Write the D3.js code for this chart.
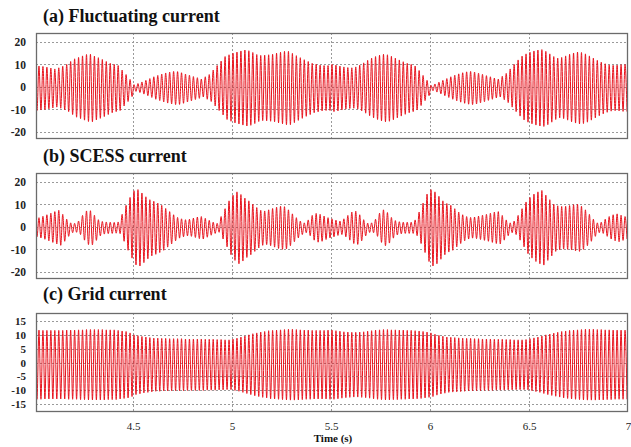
<!DOCTYPE html>
<html>
<head>
<meta charset="utf-8">
<script src="https://cdn.jsdelivr.net/npm/d3@7"></script>
<style>
  html, body { margin: 0; padding: 0; background: #fff; }
  svg { display: block; }
  svg text { font-family: "Times New Roman", "Liberation Serif", "DejaVu Serif", serif; }
</style>
</head>
<body>
<svg id="chart" width="631" height="447"></svg>
<script>
// ---------------- DATA ----------------
const panelTitles = ["(a) Fluctuating current", "(b) SCESS current", "(c) Grid current"];
const xTicks = [4.5, 5, 5.5, 6, 6.5, 7];
const xTickLabels = ["4.5", "5", "5.5", "6", "6.5", "7"];
const yTicksAB = [20, 10, 0, -10, -20];
const yTicksC = [15, 10, 5, 0, -5, -10, -15];
const xLabel = "Time (s)";

// each waveform: one value per 50 Hz cycle = peak amplitude (A) read from the envelope
const cycleStart = 4.0;     // s
const cyclePeriod = 0.02;   // s

const fluctuatingAmp = [
  10.0,9.8,9.6,9.3,8.9,8.5,9.0,9.7,10.5,11.8,
  13.0,13.6,14.3,14.9,15.0,14.2,13.5,12.7,11.8,11.0,
  10.5,10.0,8.0,6.0,3.8,1.5,2.0,2.7,3.4,4.2,
  5.0,5.6,6.2,6.7,7.1,7.4,7.3,6.8,6.2,5.7,
  5.1,4.6,4.0,5.0,6.0,8.0,10.0,12.0,14.0,14.8,
  15.5,16.0,16.5,16.9,16.6,15.8,14.9,14.5,14.6,14.8,
  15.0,15.5,15.9,16.3,16.3,15.4,14.4,13.5,12.6,11.8,
  11.0,10.6,10.2,10.0,10.0,
  10.5,10.2,9.8,9.4,9.1,9.0,9.4,10.2,11.2,12.3,
  13.3,14.0,14.6,15.0,14.8,14.1,13.3,12.5,11.7,11.0,
  10.5,9.8,7.8,5.6,3.4,1.2,1.8,2.6,3.4,4.2,
  5.0,5.7,6.3,6.8,7.2,7.4,7.1,6.6,6.1,5.5,
  5.0,4.4,4.0,5.2,6.5,8.5,10.5,12.5,14.2,15.2,
  15.9,16.5,16.9,17.1,16.3,15.2,14.0,13.3,13.6,14.3,
  15.0,15.6,16.0,15.8,15.2,14.3,13.3,12.3,11.5,10.8,
  10.3,10.1,10.2,10.4,10.5
];
const scessAmp = [
  4.0,4.5,5.1,5.8,6.5,7.2,7.8,6.0,3.8,2.2,
  2.0,3.0,5.5,7.5,7.6,5.6,3.6,2.8,2.6,2.5,
  2.4,2.6,6.0,10.0,13.5,16.5,17.0,15.5,13.8,12.5,
  11.8,11.0,10.0,8.6,7.2,5.8,4.6,4.0,3.6,3.8,
  4.3,4.8,5.0,4.2,3.3,2.5,2.0,5.0,8.5,12.0,
  14.5,16.0,14.8,13.2,12.0,10.5,9.0,7.8,7.5,8.0,
  8.6,9.2,9.6,9.4,8.0,6.2,4.5,3.0,2.2,3.5,
  5.5,6.4,6.0,5.2,4.5,
  4.0,3.4,3.0,4.0,5.5,7.0,7.4,5.8,3.6,2.1,
  2.2,3.8,6.5,8.0,6.8,4.6,3.2,2.7,2.5,2.5,
  2.5,3.5,7.0,11.0,15.0,17.0,16.0,14.0,12.0,10.8,
  10.0,8.5,7.0,5.8,5.0,4.6,4.8,5.2,5.6,6.0,
  6.5,7.0,7.2,5.5,3.5,2.2,3.0,5.5,8.5,11.5,
  13.5,15.0,16.0,16.6,14.5,12.5,10.5,9.8,9.5,9.6,
  9.9,10.3,10.5,9.6,8.0,6.0,3.8,2.2,2.5,3.8,
  5.0,5.8,6.2,5.6,5.0
];
const gridAmp = [
  12.5,12.5,12.4,12.4,12.4,12.4,12.4,12.4,12.5,12.5,
  12.5,12.6,12.6,12.7,12.7,12.7,12.7,12.7,12.6,12.6,
  12.6,12.4,12.2,12.0,11.5,10.8,10.5,10.2,10.0,9.8,
  9.6,9.6,9.5,9.5,9.4,9.4,9.4,9.4,9.3,9.3,
  9.3,9.3,9.3,9.2,9.2,9.2,9.1,9.1,9.0,9.0,
  9.3,9.6,10.0,10.4,10.8,11.2,11.5,11.8,12.0,12.3,
  12.4,12.5,12.6,12.7,12.8,12.8,12.7,12.6,12.5,12.5,
  12.4,12.4,12.4,12.4,12.5,
  12.5,12.3,12.1,11.9,11.8,11.7,11.7,11.8,11.9,12.1,
  12.3,12.5,12.6,12.7,12.7,12.6,12.6,12.5,12.5,12.4,
  12.4,12.3,12.2,12.0,11.8,11.5,11.0,10.6,10.3,10.0,
  9.9,9.8,9.7,9.6,9.5,9.5,9.4,9.4,9.3,9.3,
  9.3,9.2,9.2,9.2,9.1,9.1,9.0,9.0,9.0,9.1,
  9.4,9.7,10.0,10.4,10.8,11.1,11.4,11.7,12.0,12.2,
  12.4,12.5,12.6,12.7,12.8,12.8,12.8,12.7,12.7,12.6,
  12.6,12.5,12.5,12.5,12.5
];
// small DC offsets of each waveform (negative peaks slightly larger)
const fluctuatingOffset = -0.5;
const scessOffset = -0.4;
const gridOffset = -0.8;

// ---------------- LAYOUT ----------------
const svg = d3.select("#chart");
const plotLeft = 36, plotRight = 628;
const panels = [
  { title: panelTitles[0], amp: fluctuatingAmp, off: fluctuatingOffset, top: 33, bottom: 139, domain: [-23.2, 24], ticks: yTicksAB, titleY: 21.5 },
  { title: panelTitles[1], amp: scessAmp,       off: scessOffset,       top: 173, bottom: 279, domain: [-23.2, 24], ticks: yTicksAB, titleY: 162 },
  { title: panelTitles[2], amp: gridAmp,        off: gridOffset,        top: 313, bottom: 412, domain: [-17.9, 17.9], ticks: yTicksC, titleY: 299.5 }
];

const x = d3.scaleLinear().domain([4.01, 7.0]).range([plotLeft, plotRight]);
const serif = '"Times New Roman", "Liberation Serif", "DejaVu Serif", serif';

panels.forEach((p, k) => {
  const y = d3.scaleLinear().domain(p.domain).range([p.bottom, p.top]);
  const g = svg.append("g");

  g.append("text")
    .attr("x", 43).attr("y", p.titleY)
    .style("font-family", serif).style("font-weight", "bold")
    .style("font-size", "18px").attr("fill", "#111")
    .text(p.title);

  const clipId = "clip" + k;
  svg.append("clipPath").attr("id", clipId)
    .append("rect").attr("x", plotLeft).attr("y", p.top)
    .attr("width", plotRight - plotLeft).attr("height", p.bottom - p.top);

  g.append("g").selectAll("line").data(p.ticks).join("line")
    .attr("x1", plotLeft).attr("x2", plotRight)
    .attr("y1", d => Math.round(y(d)) + 0.5).attr("y2", d => Math.round(y(d)) + 0.5)
    .attr("stroke", "#9a9a9a").attr("stroke-width", 1).attr("stroke-dasharray", "2,2");
  g.append("g").selectAll("line").data(xTicks.filter(t => t < 7)).join("line")
    .attr("x1", d => Math.round(x(d)) + 0.5).attr("x2", d => Math.round(x(d)) + 0.5)
    .attr("y1", p.top).attr("y2", p.bottom)
    .attr("stroke", "#9a9a9a").attr("stroke-width", 1).attr("stroke-dasharray", "2,2");

  const pts = [];
  p.amp.forEach((a, i) => {
    const t0 = cycleStart + i * cyclePeriod;
    pts.push([t0 + cyclePeriod * 0.25, p.off + a]);
    pts.push([t0 + cyclePeriod * 0.75, p.off - a]);
  });
  const line = d3.line().x(d => x(d[0])).y(d => y(d[1])).curve(d3.curveMonotoneX);
  g.append("path")
    .attr("clip-path", `url(#${clipId})`)
    .attr("d", line(pts))
    .attr("fill", "none")
    .attr("stroke", "#e8141e")
    .attr("stroke-width", 1.0);

  g.append("rect")
    .attr("x", plotLeft + 0.5).attr("y", p.top + 0.5)
    .attr("width", plotRight - plotLeft - 1).attr("height", p.bottom - p.top - 1)
    .attr("fill", "none").attr("stroke", "#6b6b6b").attr("stroke-width", 1.3);

  const yAxis = d3.axisLeft(y).tickValues(p.ticks).tickSize(0).tickPadding(0)
    .tickFormat(d => String(d));
  const ya = g.append("g").attr("transform", `translate(${plotLeft - 10},0)`).call(yAxis);
  ya.select(".domain").remove();
  ya.attr("font-family", null);
  ya.selectAll("text")
    .style("font-family", serif).style("font-weight", "bold")
    .style("font-size", p.ticks.length > 5 ? "11px" : "11.5px").attr("fill", "#222");

  if (k === 2) {
    const xAxis = d3.axisBottom(x).tickValues(xTicks).tickSize(0).tickPadding(0)
      .tickFormat((d, i) => xTickLabels[i]);
    const xa = g.append("g").attr("transform", `translate(0,${p.bottom + 10})`).call(xAxis);
    xa.select(".domain").remove();
    xa.attr("font-family", null);
    xa.selectAll("text")
      .style("font-family", serif).style("font-size", "11px").attr("fill", "#222");
    g.append("text")
      .attr("x", 333).attr("y", 442)
      .attr("text-anchor", "middle")
      .style("font-family", serif).style("font-weight", "bold")
      .style("font-size", "11px").attr("fill", "#111")
      .text(xLabel);
  }
});
</script>
</body>
</html>
